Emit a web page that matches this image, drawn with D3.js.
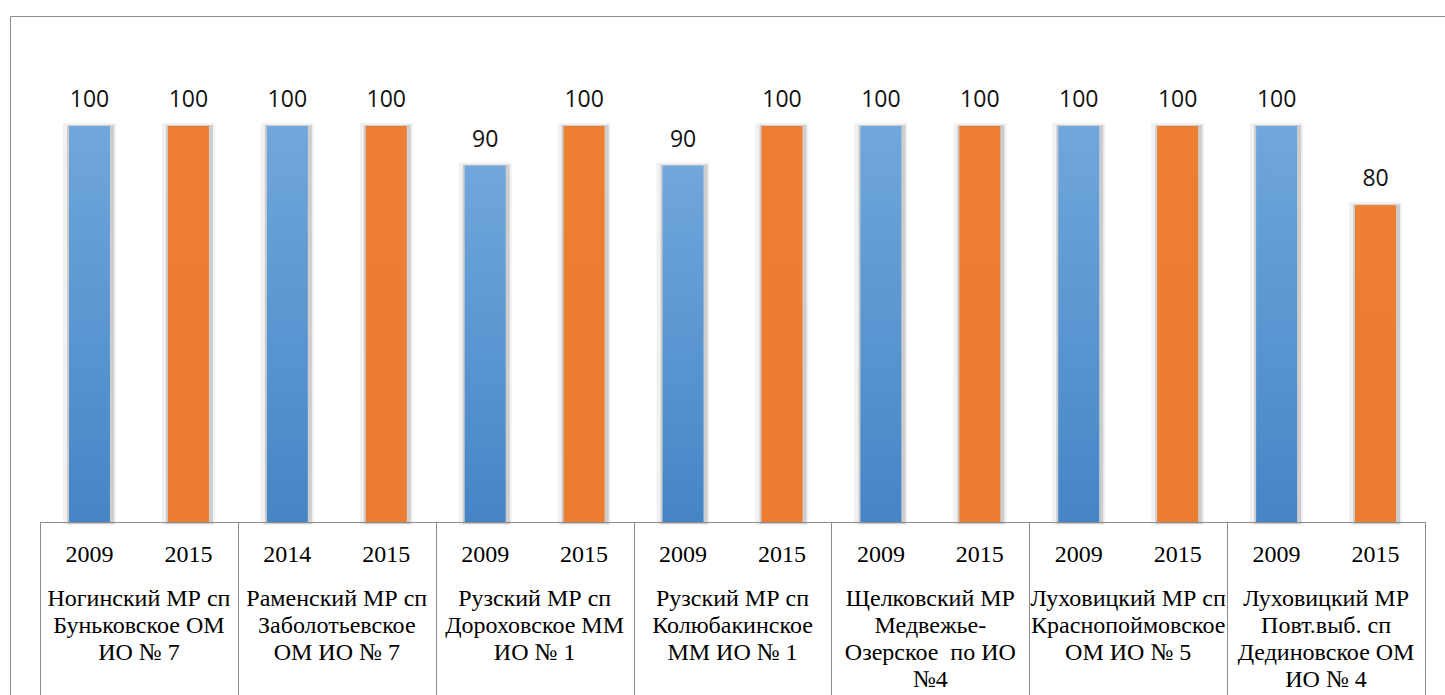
<!DOCTYPE html>
<html><head><meta charset="utf-8">
<script src="https://cdn.jsdelivr.net/npm/d3@7"></script>
<style>body{margin:0;background:#fff;}svg{display:block;}</style>
</head><body>
<script>
const groups = [
  ["Ногинский МР сп","Буньковское ОМ","ИО № 7"],
  ["Раменский МР сп","Заболотьевское","ОМ ИО № 7"],
  ["Рузский МР сп","Дороховское ММ","ИО № 1"],
  ["Рузский МР сп","Колюбакинское","ММ ИО № 1"],
  ["Щелковский МР","Медвежье-","Озерское  по ИО","№4"],
  ["Луховицкий МР сп","Краснопоймовское","ОМ ИО № 5"],
  ["Луховицкий МР","Повт.выб. сп","Дединовское ОМ","ИО № 4"]
];
const years = [["2009","2015"],["2014","2015"],["2009","2015"],["2009","2015"],["2009","2015"],["2009","2015"],["2009","2015"]];
const values = [[100,100],[100,100],[90,100],[90,100],[100,100],[100,100],[100,80]];
const colors = ["blue","orange"];

const W=1445,H=695;
const svg=d3.select("body").append("svg").attr("width",W).attr("height",H);

// category/year texts first, directly in svg
const left=40,right=1425,axisY=522;
const x0=d3.scaleBand().domain(d3.range(groups.length)).range([left,right]).paddingInner(0).paddingOuter(0);
const x1=d3.scaleBand().domain([0,1]).range([0,x0.bandwidth()]);
const y=d3.scaleLinear().domain([0,100]).range([axisY,126]);
const bw=41;
const bars=[];
values.forEach((vals,gi)=>vals.forEach((v,si)=>bars.push({gi,si,v})));
const cx=d=>x0(d.gi)+x1(d.si)+x1.bandwidth()/2;

bars.forEach(d=>{
  svg.append("text").attr("x",cx(d)).attr("y",562).attr("text-anchor","middle")
    .style("font-family",'"Liberation Serif"').style("font-size","24px").attr("fill","#000").text(years[d.gi][d.si]);
});
groups.forEach((lines,gi)=>{
  lines.forEach((ln,li)=>svg.append("text").attr("text-anchor","middle")
    .attr("x",x0(gi)+x0.bandwidth()/2).attr("y",606+li*27)
    .style("font-family",'"Liberation Serif"').style("font-size","24px").style("white-space","pre").attr("fill","#000").text(ln));
});

const defs=svg.append("defs");
const gb=defs.append("linearGradient").attr("id","gblue").attr("x1",0).attr("y1",0).attr("x2",0).attr("y2",1);
gb.append("stop").attr("offset","0%").attr("stop-color","#70a7dc");
gb.append("stop").attr("offset","100%").attr("stop-color","#4585c6");
const go=defs.append("linearGradient").attr("id","gorange").attr("x1",0).attr("y1",0).attr("x2",0).attr("y2",1);
go.append("stop").attr("offset","0%").attr("stop-color","#ee7e32");
go.append("stop").attr("offset","100%").attr("stop-color","#ec7c30");

svg.append("line").attr("x1",10.5).attr("x2",W).attr("y1",16.5).attr("y2",16.5).attr("stroke","#8c8c8c");
svg.append("line").attr("x1",10.5).attr("x2",10.5).attr("y1",16.5).attr("y2",H).attr("stroke","#8c8c8c");

// shadows (no filter)
svg.selectAll("rect.sh1").data(bars).join("rect").attr("class","sh1")
  .attr("x",d=>cx(d)-bw/2-6).attr("width",bw+12)
  .attr("y",d=>y(d.v)-3).attr("height",d=>axisY-y(d.v)+6)
  .attr("fill","#f1f1f1");
svg.selectAll("rect.sh2").data(bars).join("rect").attr("class","sh2")
  .attr("x",d=>cx(d)-bw/2-2).attr("width",bw+6)
  .attr("y",d=>y(d.v)-1).attr("height",d=>axisY-y(d.v)+3)
  .attr("fill","#cdcdcd");
svg.selectAll("rect.bar").data(bars).join("rect").attr("class","bar")
  .attr("x",d=>cx(d)-bw/2).attr("width",bw)
  .attr("y",d=>y(d.v)).attr("height",d=>axisY-y(d.v))
  .attr("fill",d=>`url(#g${colors[d.si]})`);

svg.selectAll("text.val").data(bars).join("text").attr("class","val")
  .attr("x",d=>cx(d)).attr("y",d=>y(d.v)-19)
  .attr("text-anchor","middle").style("font-family",'"Open Sans"').style("font-size","23px").attr("fill","#111")
  .text(d=>d.v);

svg.append("line").attr("x1",left).attr("x2",right).attr("y1",axisY+0.5).attr("y2",axisY+0.5).attr("stroke","#8c8c8c");
d3.range(groups.length+1).forEach(i=>{
  const xx=Math.round(i<groups.length?x0(i):right)+0.5;
  svg.append("line").attr("x1",xx).attr("x2",xx).attr("y1",axisY).attr("y2",H).attr("stroke","#8c8c8c");
});
</script>
</body></html>
